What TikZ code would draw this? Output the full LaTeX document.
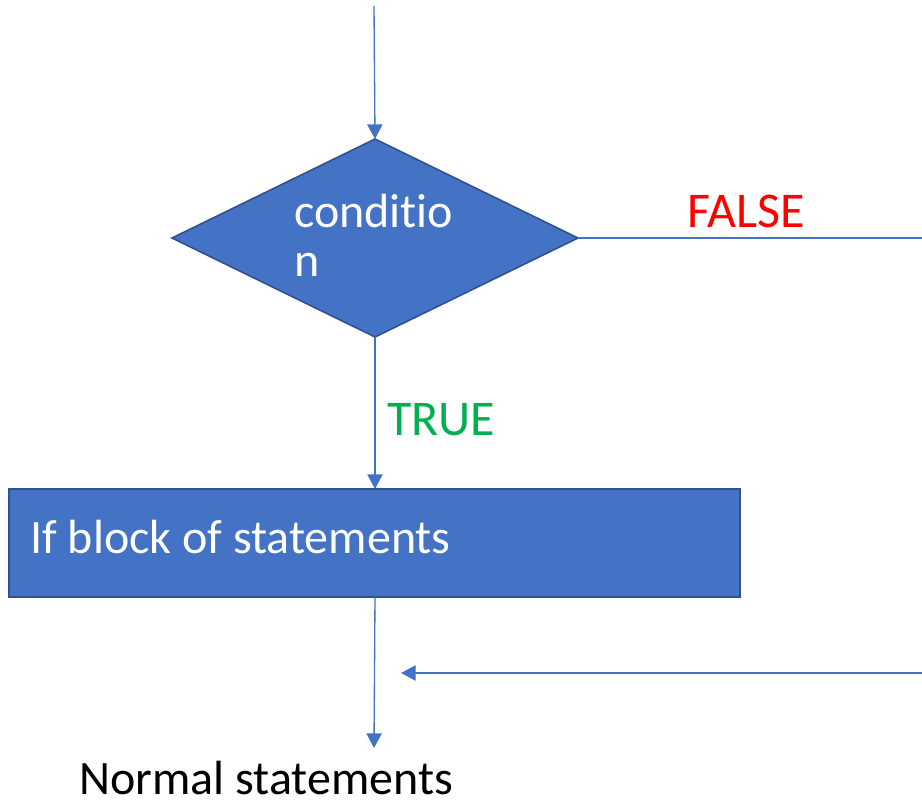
\documentclass[tikz,border=0pt]{standalone}
\usepackage{fontspec}
\setmainfont{Carlito}[Ligatures=NoCommon]
\usetikzlibrary{arrows.meta}
\usetikzlibrary{shapes.geometric}
\usetikzlibrary{positioning}
\definecolor{flowblue}{HTML}{4472C4}
\definecolor{flowedge}{HTML}{2F528F}
\definecolor{falsered}{HTML}{FF0000}
\definecolor{truegreen}{HTML}{00B050}

\begin{document}
\begin{tikzpicture}[x=0.75pt,y=-0.75pt]
	\useasboundingbox (0,0) rectangle (922,807);
	\begin{scope}[every node/.style={fill=flowblue, draw=flowedge, line width=1.2pt, inner sep=0pt, outer sep=0pt}]
		\node[diamond, minimum width=304.5pt, minimum height=148.5pt] (cond) at (375,238) {};
		\node[rectangle, minimum width=548.25pt, minimum height=81pt] (block) at (374.5,543) {};
	\end{scope}

	\begin{scope}[every node/.style={inner sep=0pt, font=\fontsize{36}{36.75}\selectfont}]
		\node[anchor=base west, align=left, text=white] (condtxt) at (294,276) {conditio\\n};
		\node[anchor=base west, text=white] (blocktxt) at (30,553) {If block of statements};
		\node[anchor=base west, text=falsered, font=\fontsize{37.5}{40}\selectfont] (false) at (687,227) {FALSE};
		\node[anchor=base west, text=truegreen, font=\fontsize{37.5}{40}\selectfont] (true) at (387,435) {TRUE};
		\node[anchor=base west] (normal) at (79,794) {Normal statements};
	\end{scope}

	\coordinate (start) at (374,6);
	\coordinate (stop) at (374,748);
	\coordinate (fright) at (922,238);
	\coordinate (rback) at (922,673);
	\coordinate (merge) at (401,673);

	\begin{scope}[>={Triangle[length=11pt,width=11.5pt]},
	              every path/.style={draw=flowblue, line width=1pt}]
		\path (start) edge[->] (cond.north);
		\path (cond.south) edge[->] (cond.south |- block.north);
		\path (cond.south |- block.south) edge[->] (stop);
		\path (cond.east) edge (fright);
		\path (rback) edge[->] (merge);
	\end{scope}
\end{tikzpicture}
\end{document}
